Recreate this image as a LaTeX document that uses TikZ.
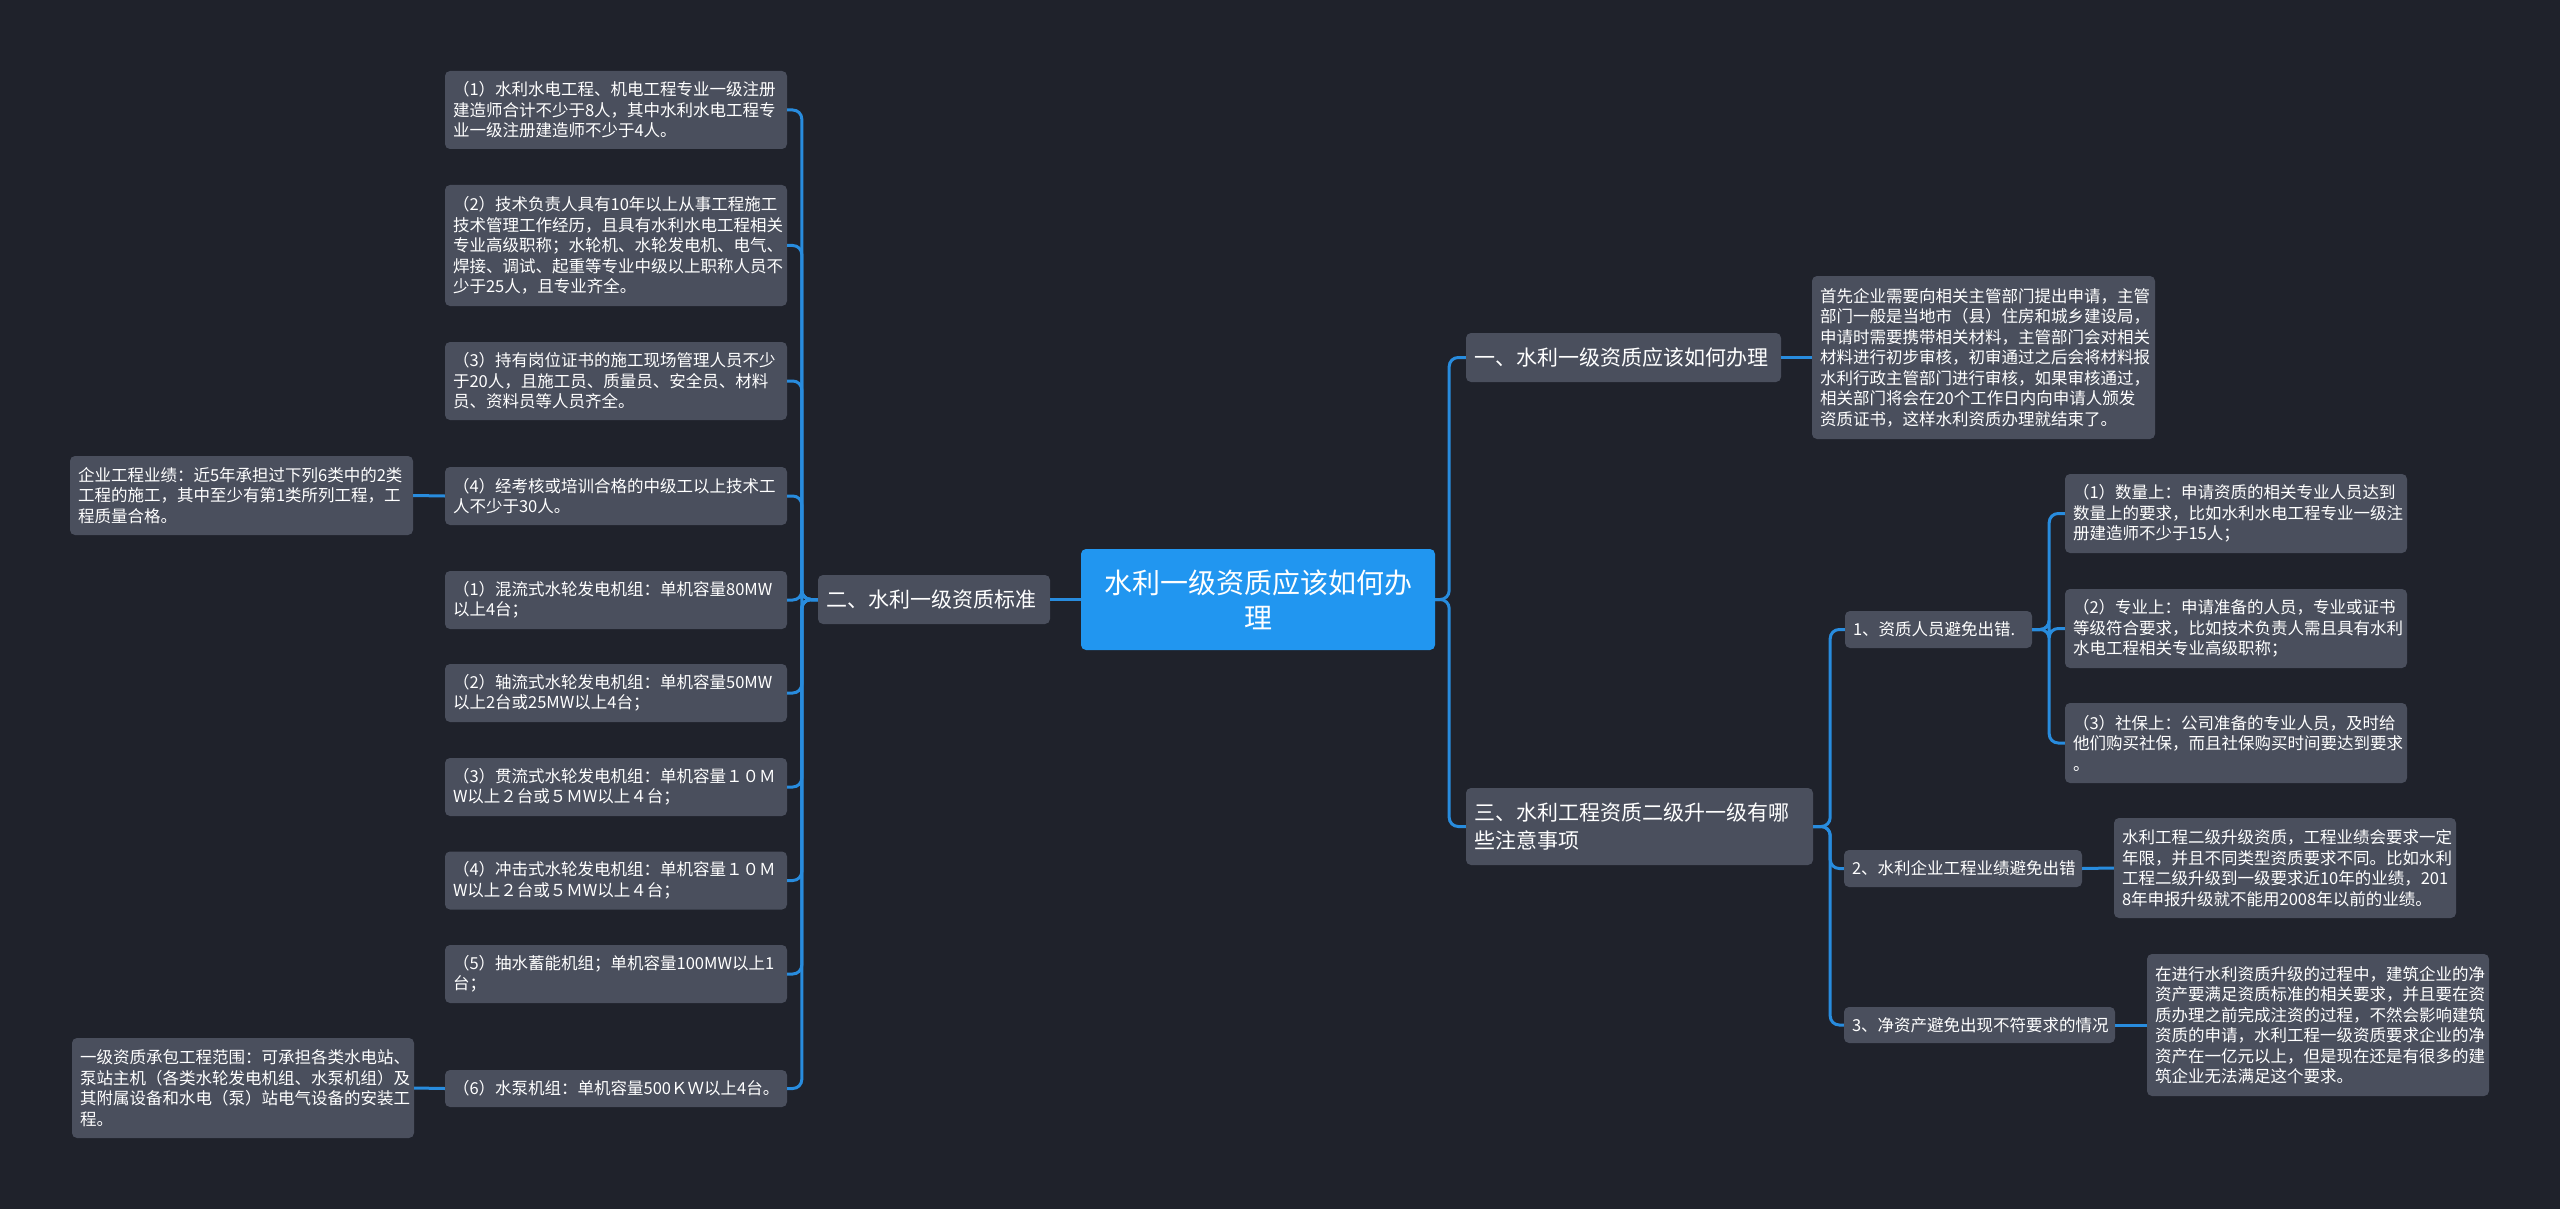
\documentclass[tikz,border=0pt]{standalone}
\usepackage{fontspec}
\setmainfont{Noto Sans CJK SC}
\definecolor{bgc}{RGB}{31,34,43}
\definecolor{boxc}{RGB}{74,79,93}
\definecolor{rootc}{RGB}{33,150,240}
\definecolor{linec}{RGB}{40,140,222}
\newcommand\mysmall{\fontsize{16.5}{20.5}\selectfont}
\newcommand\mymid{\fontsize{21}{28}\selectfont}
\newcommand\mybig{\fontsize{28}{35}\selectfont}
\tikzset{
  box/.style={fill=boxc, rounded corners=5pt, text=white, inner xsep=8pt, inner ysep=0pt, align=left, font=\mysmall},
  midbox/.style={box, font=\mymid},
  rootbox/.style={fill=rootc, rounded corners=5pt, text=white, inner xsep=8pt, inner ysep=0pt, align=center, font=\mybig},
  conn/.style={draw=linec, line width=3pt, rounded corners=9pt},
}
\begin{document}
\begin{tikzpicture}[x=1pt,y=-1pt]
\fill[bgc] (0,0) rectangle (2560,1209);
\useasboundingbox (0,0) rectangle (2560,1209);

% root
\node[rootbox, text width=338pt, minimum height=101pt] (root) at (1258,599.5) {水利一级资质应该如何办\\理};

% left branch
\node[midbox, text width=216pt, minimum height=49pt] (n2) at (934,599.5) {二、水利一级资质标准};

\node[box, text width=326pt, minimum height=78pt] (b1) at (616,110) {（1）水利水电工程、机电工程专业一级注册\\建造师合计不少于8人，其中水利水电工程专\\业一级注册建造师不少于4人。};
\node[box, text width=326pt, minimum height=121pt] (b2) at (616,245.5) {（2）技术负责人具有10年以上从事工程施工\\技术管理工作经历，且具有水利水电工程相关\\专业高级职称；水轮机、水轮发电机、电气、\\焊接、调试、起重等专业中级以上职称人员不\\少于25人，且专业齐全。};
\node[box, text width=326pt, minimum height=78pt] (b3) at (616,381) {（3）持有岗位证书的施工现场管理人员不少\\于20人，且施工员、质量员、安全员、材料\\员、资料员等人员齐全。};
\node[box, text width=326pt, minimum height=58pt] (b4) at (616,496) {（4）经考核或培训合格的中级工以上技术工\\人不少于30人。};
\node[box, text width=326pt, minimum height=58pt] (b5) at (616,600) {（1）混流式水轮发电机组：单机容量80MW\\以上4台；};
\node[box, text width=326pt, minimum height=58pt] (b6) at (616,693) {（2）轴流式水轮发电机组：单机容量50MW\\以上2台或25MW以上4台；};
\node[box, text width=326pt, minimum height=58pt] (b7) at (616,787) {（3）贯流式水轮发电机组：单机容量１０Ｍ\\W以上２台或５ＭW以上４台；};
\node[box, text width=326pt, minimum height=58pt] (b8) at (616,880.5) {（4）冲击式水轮发电机组：单机容量１０Ｍ\\W以上２台或５ＭW以上４台；};
\node[box, text width=326pt, minimum height=58pt] (b9) at (616,974) {（5）抽水蓄能机组；单机容量100MW以上1\\台；};
\node[box, text width=326pt, minimum height=37pt] (b10) at (616,1088.5) {（6）水泵机组：单机容量500ＫＷ以上4台。};

\node[box, text width=327pt, minimum height=79pt] (la) at (241.5,495.5) {企业工程业绩：近5年承担过下列6类中的2类\\工程的施工，其中至少有第1类所列工程，工\\程质量合格。};
\node[box, text width=326pt, minimum height=100pt] (lb) at (243,1088) {一级资质承包工程范围：可承担各类水电站、\\泵站主机（各类水轮发电机组、水泵机组）及\\其附属设备和水电（泵）站电气设备的安装工\\程。};

% right branch
\node[midbox, text width=299pt, minimum height=49pt] (n1) at (1623.5,357.5) {一、水利一级资质应该如何办理};
\node[box, text width=327pt, minimum height=163pt] (t1) at (1983.5,357.5) {首先企业需要向相关主管部门提出申请，主管\\部门一般是当地市（县）住房和城乡建设局，\\申请时需要携带相关材料，主管部门会对相关\\材料进行初步审核，初审通过之后会将材料报\\水利行政主管部门进行审核，如果审核通过，\\相关部门将会在20个工作日内向申请人颁发\\资质证书，这样水利资质办理就结束了。};

\node[midbox, text width=331pt, minimum height=77pt] (n3) at (1639.5,826.5) {三、水利工程资质二级升一级有哪\\些注意事项};

\node[box, text width=171pt, minimum height=37pt] (s1) at (1938.5,629.5) {1、资质人员避免出错.};
\node[box, text width=222pt, minimum height=37pt] (s2) at (1963,868.5) {2、水利企业工程业绩避免出错};
\node[box, text width=255pt, minimum height=36pt] (s3) at (1979.5,1025) {3、净资产避免出现不符要求的情况};

\node[box, text width=326pt, minimum height=79pt] (p1) at (2236,513.5) {（1）数量上：申请资质的相关专业人员达到\\数量上的要求，比如水利水电工程专业一级注\\册建造师不少于15人；};
\node[box, text width=326pt, minimum height=79pt] (p2) at (2236,628.5) {（2）专业上：申请准备的人员，专业或证书\\等级符合要求，比如技术负责人需且具有水利\\水电工程相关专业高级职称；};
\node[box, text width=326pt, minimum height=80pt] (p3) at (2236,743) {（3）社保上：公司准备的专业人员，及时给\\他们购买社保，而且社保购买时间要达到要求\\。};

\node[box, text width=326pt, minimum height=100pt] (u2) at (2285,868) {水利工程二级升级资质，工程业绩会要求一定\\年限，并且不同类型资质要求不同。比如水利\\工程二级升级到一级要求近10年的业绩，201\\8年申报升级就不能用2008年以前的业绩。};
\node[box, text width=326pt, minimum height=142pt] (u3) at (2318,1025) {在进行水利资质升级的过程中，建筑企业的净\\资产要满足资质标准的相关要求，并且要在资\\质办理之前完成注资的过程，不然会影响建筑\\资质的申请，水利工程一级资质要求企业的净\\资产在一亿元以上，但是现在还是有很多的建\\筑企业无法满足这个要求。};

% connectors
\draw[conn] (root.west) -- (n2.east);
\foreach \c in {b1,b2,b3,b4,b5,b6,b7,b8,b9,b10}
  \draw[conn] (n2.west) -- ++(-16,0) |- (\c.east);
\draw[conn] (b4.west) -- (la.east);
\draw[conn] (b10.west) -- (lb.east);

\foreach \c in {n1,n3}
  \draw[conn] (root.east) -- ++(14,0) |- (\c.west);
\draw[conn] (n1.east) -- (t1.west);
\foreach \c in {s1,s2,s3}
  \draw[conn] (n3.east) -- ++(17,0) |- (\c.west);
\foreach \c in {p1,p2,p3}
  \draw[conn] (s1.east) -- ++(17,0) |- (\c.west);
\draw[conn] (s2.east) -- (u2.west);
\draw[conn] (s3.east) -- (u3.west);
\end{tikzpicture}
\end{document}
